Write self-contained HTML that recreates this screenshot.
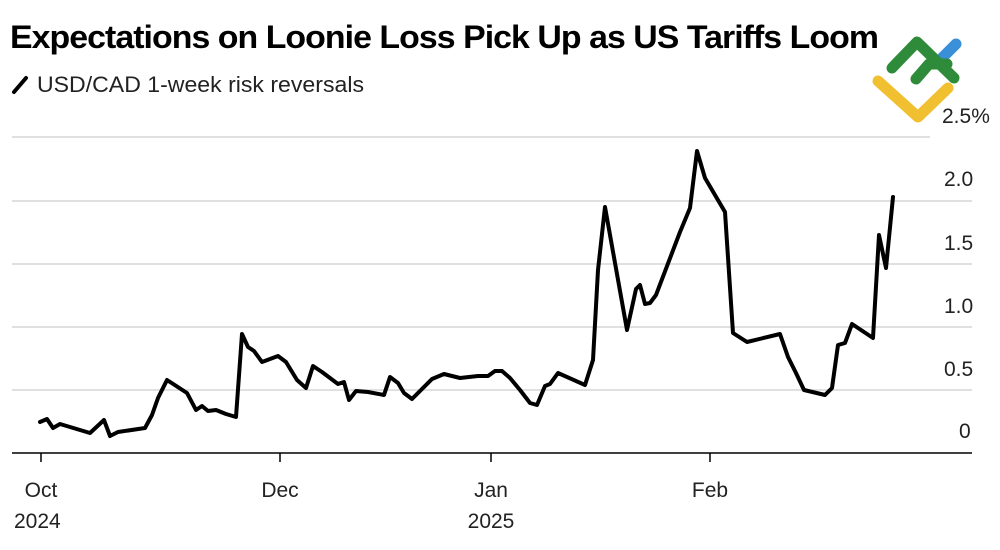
<!DOCTYPE html>
<html><head><meta charset="utf-8"><style>
body{margin:0;background:#fff;width:1000px;height:545px;overflow:hidden;font-family:"Liberation Sans",sans-serif;}
</style></head><body>
<svg width="1000" height="545" viewBox="0 0 1000 545" xmlns="http://www.w3.org/2000/svg">
<text x="10" y="48" font-family="Liberation Sans, sans-serif" font-weight="bold" font-size="32" fill="#000" letter-spacing="-0.9" textLength="868" lengthAdjust="spacingAndGlyphs">Expectations on Loonie Loss Pick Up as US Tariffs Loom</text>
<line x1="14" y1="92" x2="26" y2="78" stroke="#000" stroke-width="4" stroke-linecap="round"/>
<text x="37" y="92" font-size="22" fill="#222" textLength="327" lengthAdjust="spacingAndGlyphs">USD/CAD 1-week risk reversals</text>
<g stroke="#d6d6d6" stroke-width="1.5">
<line x1="12" y1="137" x2="930" y2="137"/>
<line x1="12" y1="201" x2="972" y2="201"/>
<line x1="12" y1="264" x2="972" y2="264"/>
<line x1="12" y1="327" x2="972" y2="327"/>
<line x1="12" y1="390" x2="972" y2="390"/>
</g>
<line x1="12" y1="453" x2="972" y2="453" stroke="#000" stroke-width="1.5"/>
<g font-size="21" fill="#222">
<text x="942" y="123">2.5%</text>
<text x="944" y="186">2.0</text>
<text x="944" y="250">1.5</text>
<text x="944" y="313">1.0</text>
<text x="944" y="376">0.5</text>
<text x="959" y="438">0</text>
<text x="41" y="497" text-anchor="middle">Oct</text>
<text x="14" y="528">2024</text>
<text x="280" y="497" text-anchor="middle">Dec</text>
<text x="491" y="497" text-anchor="middle">Jan</text>
<text x="491" y="528" text-anchor="middle">2025</text>
<text x="710" y="497" text-anchor="middle">Feb</text>
</g>
<g stroke="#000" stroke-width="1.5">
<line x1="41" y1="453" x2="41" y2="462"/>
<line x1="280" y1="453" x2="280" y2="462"/>
<line x1="491" y1="453" x2="491" y2="462"/>
<line x1="710" y1="453" x2="710" y2="462"/>
</g>
<polyline fill="none" stroke="#000" stroke-width="4" stroke-linejoin="round" stroke-linecap="round" points="40,422 47,419 53,428 60,424 90,433 104,420 110,436 118,432 145,428 152,415 158,398 167,380 187,393 196,410 202,406 208,411 216,410 226,414 236,417 242,334 248,347 254,351 262,362 278,356 286,362 297,380 306,388 313,366 322,372 338,384 344,382 349,400 356,391 368,392 384,395 390,377 398,383 404,393 412,399 432,379 444,374 460,378 478,376 488,376 495,371 502,371 510,378 520,390 530,403 537,405 545,386 550,384 558,373 585,385 593,360 598,270 605,207 627,330 636,289 640,285 645,304 650,303 656,295 680,232 690,208 697,151 705,178 725,212 733,333 747,342 780,334 788,357 796,373 804,390 825,395 832,388 838,345 845,343 852,324 873,338 879,235 886,268 893,197"/>
<g fill="none" stroke-width="11" stroke-linecap="round" stroke-linejoin="round">
<line x1="941" y1="59" x2="956" y2="44" stroke="#3a8fd9"/>
<polyline points="878,81 918,117 948,88" stroke="#f0c030"/>
<polyline points="892,68 917,42 954,78" stroke="#2e8b3a"/>
<polyline points="916,79 929,64 947,64" stroke="#2e8b3a"/>
</g>
</svg>
</body></html>
